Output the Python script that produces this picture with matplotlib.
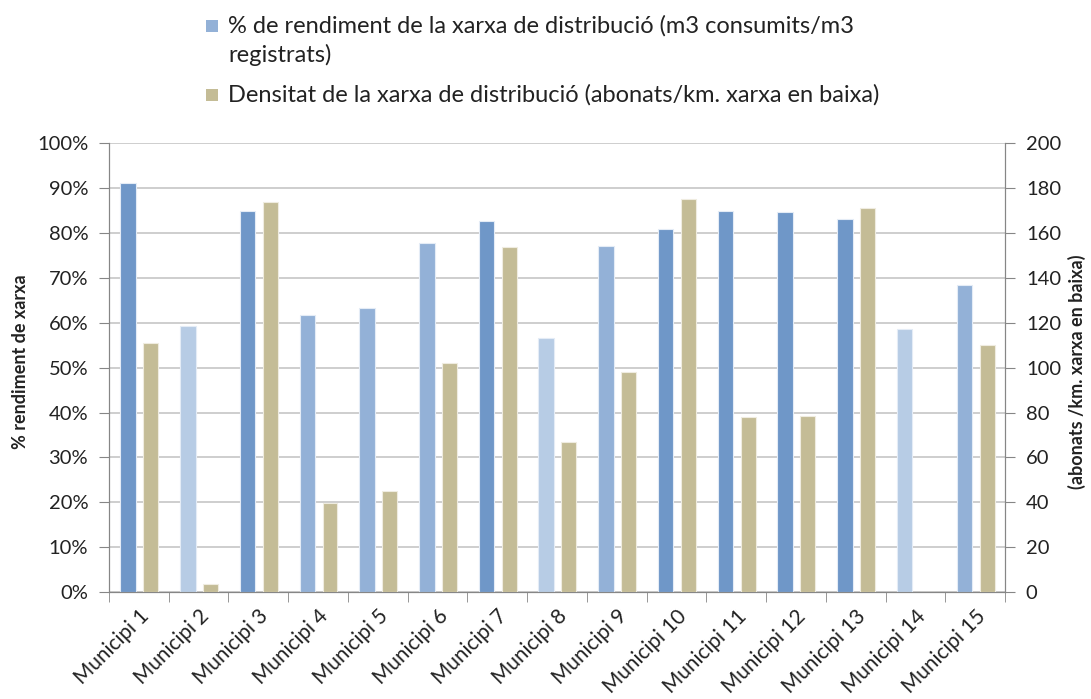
import numpy as np
import matplotlib.pyplot as plt
from matplotlib.patches import Rectangle

plt.rcParams['font.family'] = ['Lato', 'DejaVu Sans']

municipis = ['Municipi %d' % i for i in range(1, 16)]
rendiment = [91.2, 59.2, 85.0, 61.8, 63.4, 77.7, 82.7, 56.6, 77.1, 80.8, 84.9, 84.6, 83.2, 58.6, 68.4]
densitat = [111, 3.6, 174, 39.6, 45, 102, 154, 67, 98, 175, 78, 78.5, 171, 0, 110]

blue_dark = '#6F97C8'
blue_mid = '#93B1D7'
blue_light = '#B7CCE5'
tan = '#C4BC96'
blue_cols = [blue_dark, blue_light, blue_dark, blue_mid, blue_mid, blue_mid, blue_dark,
             blue_light, blue_mid, blue_dark, blue_dark, blue_dark, blue_dark, blue_light, blue_mid]

W, H = 1091, 699
fig = plt.figure(figsize=(W / 100, H / 100), dpi=100)
ax = fig.add_axes([0.0999, 0.153, 0.8213, 0.642])
ax2 = ax.twinx()

x = np.arange(len(municipis))
ax.bar(x - 0.18, rendiment, width=0.26, color=blue_cols, edgecolor='#E4ECF6', linewidth=0.8, zorder=3)
ax2.bar(x + 0.2, densitat, width=0.25, color=tan, edgecolor='#EFECE0', linewidth=0.8, zorder=3)

ax.set_xlim(-0.5, len(municipis) - 0.5)
ax.set_ylim(0, 100)
ax2.set_ylim(0, 200)
ax.set_yticks(np.arange(0, 101, 10))
ax.set_yticklabels(['%d%%' % v for v in range(0, 101, 10)])
ax2.set_yticks(np.arange(0, 201, 20))

ax.yaxis.grid(True, color='#C6C6C6', linewidth=1.2, zorder=0)
ax.set_axisbelow(True)

ax.set_xticks(x)
ax.set_xticklabels(municipis, rotation=45, ha='right', rotation_mode='anchor')
ax.set_xticks(np.arange(-0.5, len(municipis), 1), minor=True)
ax.tick_params(axis='x', which='major', length=0, pad=10)
ax.tick_params(axis='x', which='minor', length=7, color='#868686')

txt = '#222222'
for a in (ax, ax2):
    a.tick_params(axis='y', length=7, color='#868686', labelsize=14.5, labelcolor=txt, pad=8)
    a.spines['top'].set_visible(False)
    for s in ['left', 'right', 'bottom']:
        a.spines[s].set_color('#868686')
ax.tick_params(axis='x', labelsize=15, labelcolor=txt)

ax.set_ylabel('% rendiment de xarxa', fontsize=13, fontweight='bold', color=txt)
ax2.set_ylabel('(abonats /km. xarxa en baixa)', fontsize=13, fontweight='bold', color=txt, rotation=90)
ax.yaxis.set_label_coords(-0.0993, 0.513)
ax2.yaxis.set_label_coords(1.080, 0.49)
ax.yaxis.label.set_verticalalignment('center')
ax2.yaxis.label.set_verticalalignment('center')

# legend drawn by hand so the swatch sits on the first line of the wrapped text
def fx(px):
    return px / W

def fy(py):
    return 1 - py / H

fig.patches.append(Rectangle((fx(206), fy(32)), 12 / W, 12 / H, transform=fig.transFigure,
                             facecolor=blue_mid, edgecolor='none'))
fig.patches.append(Rectangle((fx(206), fy(101)), 12 / W, 12 / H, transform=fig.transFigure,
                             facecolor=tan, edgecolor='none'))
fig.text(fx(228), fy(26), '% de rendiment de la xarxa de distribució (m3 consumits/m3',
         fontsize=17, color=txt, va='center')
fig.text(fx(228), fy(55), 'registrats)', fontsize=17, color=txt, va='center')
fig.text(fx(228), fy(95), 'Densitat de la xarxa de distribució (abonats/km. xarxa en baixa)',
         fontsize=17, color=txt, va='center')

plt.savefig('out.png', dpi=100)
